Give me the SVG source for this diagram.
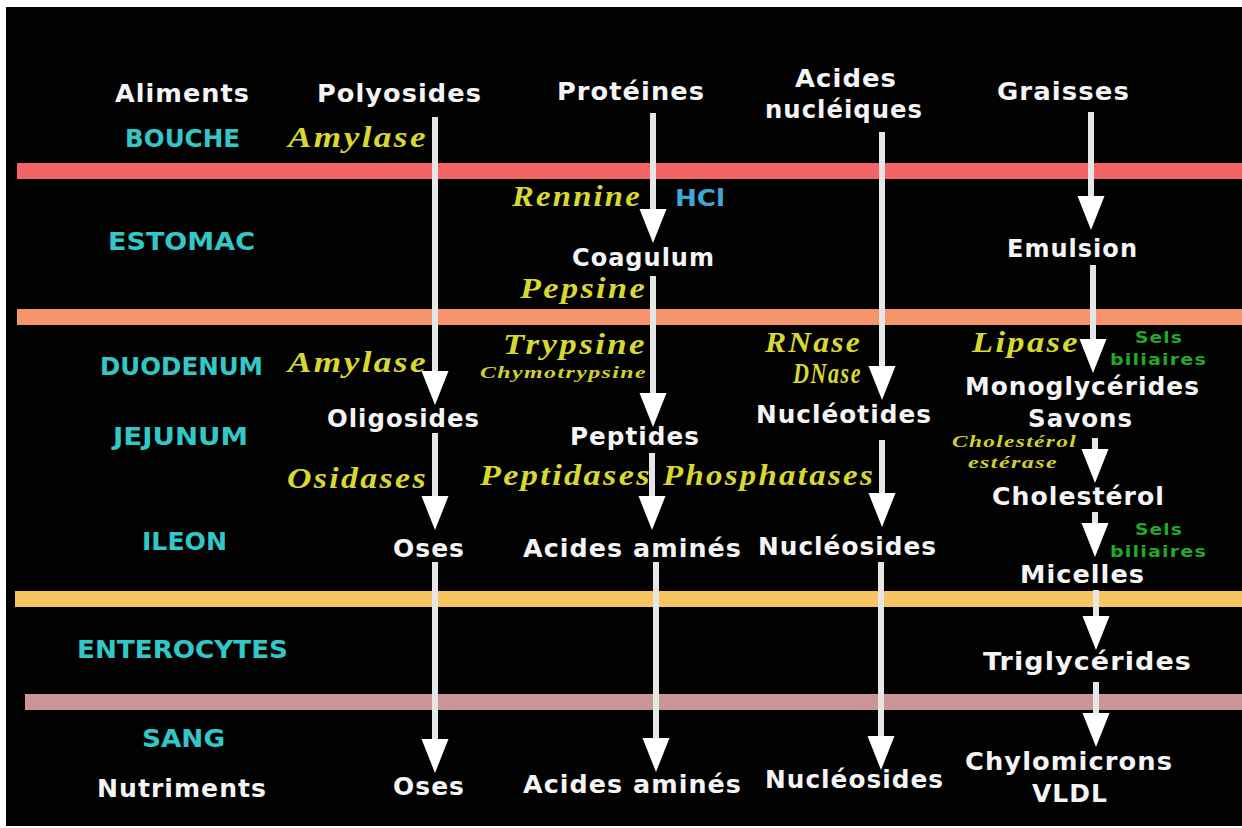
<svg xmlns="http://www.w3.org/2000/svg" width="1242" height="828" viewBox="0 0 1242 828">
<style>
text{}
.w{font-family:"DejaVu Sans","Liberation Sans",sans-serif;font-weight:bold;font-size:24px;fill:#f4f4f4;letter-spacing:1px}
.c{font-family:"DejaVu Sans","Liberation Sans",sans-serif;font-weight:bold;font-size:25px;fill:#33c8c8}
.y{font-family:"Liberation Serif","DejaVu Serif",serif;font-weight:bold;font-style:italic;font-size:29px;fill:#d8d832;letter-spacing:2px}
.ys{font-family:"Liberation Serif","DejaVu Serif",serif;font-weight:bold;font-style:italic;font-size:17px;fill:#d0d030;letter-spacing:1px}
.g{font-family:"DejaVu Sans","Liberation Sans",sans-serif;font-weight:bold;font-size:16px;fill:#22a82a;letter-spacing:1px}
.h{font-family:"DejaVu Sans","Liberation Sans",sans-serif;font-weight:bold;font-size:23px;fill:#40a8d8}
.ln{stroke:#e6e6e6;stroke-width:6;fill:none;marker-end:url(#ah)}
</style>
<defs>
<marker id="ah" markerUnits="userSpaceOnUse" viewBox="0 -14 35 28" markerWidth="35" markerHeight="28" refX="0" refY="0" orient="auto">
<path d="M0,-13.5 L34,0 L0,13.5 Z" fill="#ffffff"/>
</marker>
</defs>
<rect x="0" y="0" width="1242" height="828" fill="#ffffff"/>
<rect x="6" y="7" width="1236" height="819" fill="#020202"/>
<g id="bands">
<rect x="17" y="163" width="1225" height="16" fill="#f46464"/>
<rect x="17" y="309" width="1225" height="16" fill="#f5936a"/>
<rect x="15" y="591" width="1227" height="16" fill="#f7c462"/>
<rect x="25" y="694" width="1217" height="16" fill="#c99597"/>
</g>
<g id="connectors">
<path class="ln" d="M435,117 V371"/>
<path class="ln" d="M435,433 V496"/>
<path class="ln" d="M435,562 V739"/>
<path class="ln" d="M653,113 V209"/>
<path class="ln" d="M653,276 V393"/>
<path class="ln" d="M652,453 V496"/>
<path class="ln" d="M656,562 V738"/>
<path class="ln" d="M882,132 V366"/>
<path class="ln" d="M882,440 V493"/>
<path class="ln" d="M881,562 V736"/>
<path class="ln" d="M1091,112 V196"/>
<path class="ln" d="M1093,265 V339"/>
<path class="ln" d="M1095,438 V449"/>
<path class="ln" d="M1095,512 V523"/>
<path class="ln" d="M1096,590 V616"/>
<path class="ln" d="M1096,682 V713"/>
</g>
<g id="organs">
<text class="c" x="125" y="147" textLength="115" lengthAdjust="spacingAndGlyphs">BOUCHE</text>
<text class="c" x="108" y="250" textLength="147" lengthAdjust="spacingAndGlyphs">ESTOMAC</text>
<text class="c" x="100" y="375" textLength="163" lengthAdjust="spacingAndGlyphs">DUODENUM</text>
<text class="c" x="113" y="445" textLength="135" lengthAdjust="spacingAndGlyphs">JEJUNUM</text>
<text class="c" x="142" y="550" textLength="85" lengthAdjust="spacingAndGlyphs">ILEON</text>
<text class="c" x="77" y="658" textLength="211" lengthAdjust="spacingAndGlyphs">ENTEROCYTES</text>
<text class="c" x="142" y="747" textLength="83" lengthAdjust="spacingAndGlyphs">SANG</text>
</g>
<g id="header">
<text class="w" x="115" y="102" textLength="135" lengthAdjust="spacingAndGlyphs">Aliments</text>
<text class="w" x="317" y="102" textLength="165" lengthAdjust="spacingAndGlyphs">Polyosides</text>
<text class="w" x="557" y="100" textLength="148" lengthAdjust="spacingAndGlyphs">Protéines</text>
<text class="w" x="795" y="87" textLength="102" lengthAdjust="spacingAndGlyphs">Acides</text>
<text class="w" x="765" y="118" textLength="158" lengthAdjust="spacingAndGlyphs">nucléiques</text>
<text class="w" x="997" y="100" textLength="133" lengthAdjust="spacingAndGlyphs">Graisses</text>
</g>
<g id="polyosides">
<text class="y" x="288" y="147" textLength="140" lengthAdjust="spacingAndGlyphs">Amylase</text>
<text class="y" x="288" y="372" textLength="140" lengthAdjust="spacingAndGlyphs">Amylase</text>
<text class="w" x="327" y="427" textLength="153" lengthAdjust="spacingAndGlyphs">Oligosides</text>
<text class="y" x="287" y="488" textLength="141" lengthAdjust="spacingAndGlyphs">Osidases</text>
<text class="w" x="393" y="557" textLength="72" lengthAdjust="spacingAndGlyphs">Oses</text>
<text class="w" x="393" y="795" textLength="72" lengthAdjust="spacingAndGlyphs">Oses</text>
</g>
<g id="proteines">
<text class="y" x="512" y="206" textLength="130" lengthAdjust="spacingAndGlyphs">Rennine</text>
<text class="h" x="675" y="206" textLength="50" lengthAdjust="spacingAndGlyphs">HCl</text>
<text class="w" x="572" y="266" textLength="143" lengthAdjust="spacingAndGlyphs">Coagulum</text>
<text class="y" x="520" y="298" textLength="127" lengthAdjust="spacingAndGlyphs">Pepsine</text>
<text class="y" x="503" y="354" textLength="144" lengthAdjust="spacingAndGlyphs">Trypsine</text>
<text class="ys" x="480" y="378" textLength="167" lengthAdjust="spacingAndGlyphs">Chymotrypsine</text>
<text class="w" x="570" y="445" textLength="130" lengthAdjust="spacingAndGlyphs">Peptides</text>
<text class="y" x="480" y="485" textLength="172" lengthAdjust="spacingAndGlyphs">Peptidases</text>
<text class="w" x="523" y="557" textLength="219" lengthAdjust="spacingAndGlyphs">Acides aminés</text>
<text class="w" x="523" y="793" textLength="219" lengthAdjust="spacingAndGlyphs">Acides aminés</text>
</g>
<g id="acides-nucleiques">
<text class="y" x="765" y="352" textLength="97" lengthAdjust="spacingAndGlyphs">RNase</text>
<text class="y" x="793" y="383" textLength="69" lengthAdjust="spacingAndGlyphs">DNase</text>
<text class="w" x="756" y="423" textLength="176" lengthAdjust="spacingAndGlyphs">Nucléotides</text>
<text class="y" x="663" y="485" textLength="212" lengthAdjust="spacingAndGlyphs">Phosphatases</text>
<text class="w" x="758" y="555" textLength="179" lengthAdjust="spacingAndGlyphs">Nucléosides</text>
<text class="w" x="765" y="788" textLength="179" lengthAdjust="spacingAndGlyphs">Nucléosides</text>
</g>
<g id="graisses">
<text class="w" x="1007" y="257" textLength="131" lengthAdjust="spacingAndGlyphs">Emulsion</text>
<text class="y" x="972" y="352" textLength="108" lengthAdjust="spacingAndGlyphs">Lipase</text>
<text class="g" x="1135" y="343" textLength="48" lengthAdjust="spacingAndGlyphs">Sels</text>
<text class="g" x="1110" y="365" textLength="97" lengthAdjust="spacingAndGlyphs">biliaires</text>
<text class="w" x="965" y="395" textLength="235" lengthAdjust="spacingAndGlyphs">Monoglycérides</text>
<text class="w" x="1028" y="427" textLength="105" lengthAdjust="spacingAndGlyphs">Savons</text>
<text class="ys" x="952" y="447" textLength="125" lengthAdjust="spacingAndGlyphs">Cholestérol</text>
<text class="ys" x="968" y="468" textLength="90" lengthAdjust="spacingAndGlyphs">estérase</text>
<text class="w" x="992" y="505" textLength="173" lengthAdjust="spacingAndGlyphs">Cholestérol</text>
<text class="g" x="1135" y="535" textLength="48" lengthAdjust="spacingAndGlyphs">Sels</text>
<text class="g" x="1110" y="557" textLength="97" lengthAdjust="spacingAndGlyphs">biliaires</text>
<text class="w" x="1020" y="583" textLength="125" lengthAdjust="spacingAndGlyphs">Micelles</text>
<text class="w" x="983" y="670" textLength="209" lengthAdjust="spacingAndGlyphs">Triglycérides</text>
<text class="w" x="965" y="770" textLength="208" lengthAdjust="spacingAndGlyphs">Chylomicrons</text>
<text class="w" x="1032" y="802" textLength="76" lengthAdjust="spacingAndGlyphs">VLDL</text>
</g>
<g id="nutriments">
<text class="w" x="97" y="797" textLength="170" lengthAdjust="spacingAndGlyphs">Nutriments</text>
</g>
</svg>
